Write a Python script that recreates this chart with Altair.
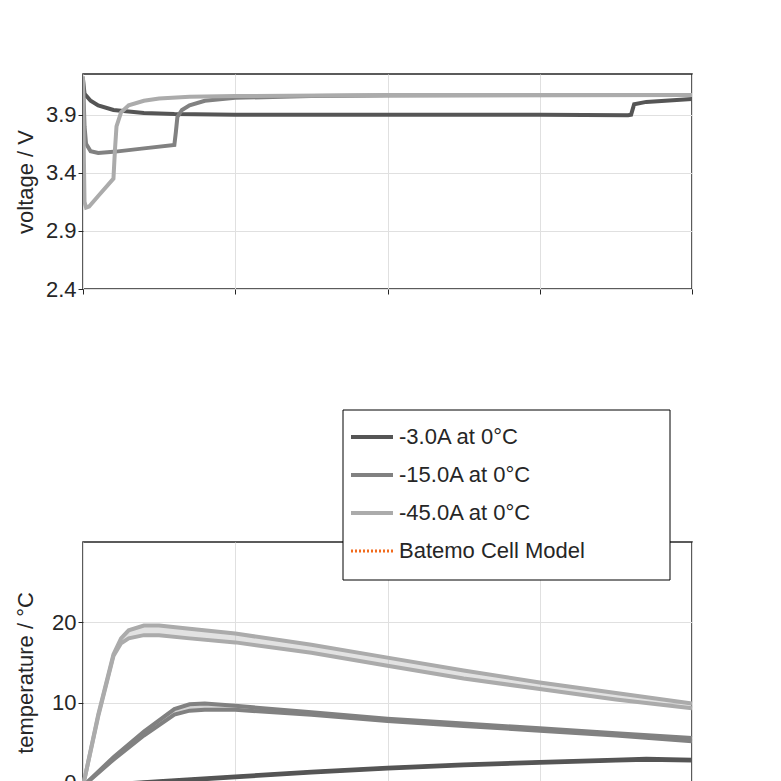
import altair as alt
import pandas as pd

FONT = "Liberation Sans"
C3, C15, C45 = "#555555", "#818181", "#ababab"

# voltage curves (time s, voltage V)
v3_t = [0, 1, 5, 10, 20, 40, 60, 100, 200, 300, 358, 360, 362, 370, 400]
v3_v = [4.20, 4.08, 4.02, 3.98, 3.94, 3.915, 3.905, 3.90, 3.90, 3.90, 3.895, 3.90, 3.99, 4.01, 4.035]
v15_t = [0, 1, 2, 5, 10, 20, 40, 60, 61, 62, 65, 70, 80, 100, 150, 200, 400]
v15_v = [4.21, 3.80, 3.65, 3.585, 3.57, 3.58, 3.61, 3.64, 3.75, 3.88, 3.94, 3.98, 4.02, 4.045, 4.06, 4.065, 4.07]
v45_t = [0, 0.5, 1, 2, 4, 10, 20, 21, 22, 25, 30, 40, 50, 70, 100, 200, 400]
v45_v = [4.23, 3.60, 3.15, 3.10, 3.11, 3.20, 3.35, 3.60, 3.80, 3.92, 3.98, 4.02, 4.04, 4.055, 4.06, 4.07, 4.07]

# temperature curves (time s, measured upper / model lower, degC)
t3_t = [0, 50, 100, 150, 200, 250, 300, 350, 370, 400]
t3_a = [-0.4, 0.2, 0.8, 1.4, 1.9, 2.3, 2.6, 2.9, 3.0, 2.9]
t3_b = [-0.4, 0.1, 0.7, 1.3, 1.8, 2.2, 2.5, 2.8, 2.9, 2.8]
t15_t = [0, 20, 40, 60, 70, 80, 100, 150, 200, 250, 300, 350, 400]
t15_a = [-0.4, 3.2, 6.4, 9.2, 9.8, 9.9, 9.6, 8.8, 8.0, 7.4, 6.8, 6.2, 5.6]
t15_b = [-0.4, 2.9, 5.9, 8.5, 9.0, 9.1, 9.1, 8.5, 7.7, 7.1, 6.5, 5.9, 5.2]
t45_t = [0, 10, 20, 25, 30, 40, 50, 70, 100, 150, 200, 250, 300, 350, 400]
t45_a = [-0.4, 8.5, 16.0, 18.0, 19.0, 19.6, 19.6, 19.2, 18.6, 17.2, 15.6, 14.0, 12.5, 11.2, 9.9]
t45_b = [-0.4, 8.3, 15.8, 17.4, 18.0, 18.4, 18.4, 18.0, 17.5, 16.2, 14.6, 13.0, 11.7, 10.4, 9.3]

labels = ["-3.0A at 0°C", "-15.0A at 0°C", "-45.0A at 0°C", "Batemo Cell Model"]

rows = []
for name, ts, vs in [("a", v3_t, v3_v), ("b", v15_t, v15_v), ("c", v45_t, v45_v)]:
    rows += [{"s": name, "t": t, "v": v} for t, v in zip(ts, vs)]
vdf = pd.DataFrame(rows)

rows = []
for name, ts, a, b in [("a", t3_t, t3_a, t3_b), ("b", t15_t, t15_a, t15_b), ("c", t45_t, t45_a, t45_b)]:
    rows += [{"s": name, "t": t, "hi": x, "lo": y} for t, x, y in zip(ts, a, b)]
tdf = pd.DataFrame(rows)

cscale = alt.Scale(domain=["a", "b", "c"], range=[C3, C15, C45])
xsc = alt.Scale(domain=[0, 400], nice=False)
ax = dict(labelFont=FONT, titleFont=FONT, labelFontSize=22, titleFontSize=22,
          titleFontWeight="normal", labelColor="#262626", titleColor="#262626",
          domain=False, tickColor="#262626", gridColor="#e0e0e0")

top = alt.Chart(vdf).mark_line(strokeWidth=4, clip=True).encode(
    x=alt.X("t:Q", scale=xsc, axis=alt.Axis(labels=False, title=None, values=[0, 100, 200, 300, 400], **ax)),
    y=alt.Y("v:Q", scale=alt.Scale(domain=[2.4, 4.25], nice=False, zero=False),
            axis=alt.Axis(values=[2.4, 2.9, 3.4, 3.9], format=".1f", title="voltage / V", titlePadding=8, **ax)),
    color=alt.Color("s:N", scale=cscale, legend=None),
).properties(width=609, height=215)

base = alt.Chart(tdf).encode(
    x=alt.X("t:Q", scale=xsc, axis=alt.Axis(values=[0, 100, 200, 300, 400], title="time / s", **ax)),
    color=alt.Color("s:N", scale=cscale, legend=None),
)
ysc = alt.Scale(domain=[-2.5, 30], nice=False)
yax = alt.Axis(values=[0, 10, 20], title="temperature / °C", titlePadding=14, **ax)
band = base.mark_area(opacity=0.35).encode(y=alt.Y("hi:Q", scale=ysc, axis=yax), y2="lo:Q")
hi = base.mark_line(strokeWidth=4).encode(y=alt.Y("hi:Q", scale=ysc))
lo = base.mark_line(strokeWidth=4).encode(y=alt.Y("lo:Q", scale=ysc))

# legend drawn in bottom panel, overlapping into the gap
leg = pd.DataFrame({"label": labels, "row": [0, 1, 2, 3], "col": [C3, C15, C45, "#f26b1d"]})
box = alt.Chart(pd.DataFrame({"k": [0]})).mark_rect(fill="white", stroke="black", strokeWidth=1).encode(
    x=alt.value(260), x2=alt.value(587), y=alt.value(-132), y2=alt.value(38))
lrow = alt.Chart(leg).transform_calculate(yy="-105 + datum.row * 38")
lines = lrow.transform_filter("datum.row < 3").mark_rule(strokeWidth=4).encode(
    x=alt.value(268), x2=alt.value(310), y=alt.Y("yy:Q", scale=None, axis=None),
    color=alt.Color("col:N", scale=None, legend=None))
dots = lrow.transform_filter("datum.row == 3").mark_rule(strokeWidth=3, strokeDash=[2, 2]).encode(
    x=alt.value(268), x2=alt.value(310), y=alt.Y("yy:Q", scale=None, axis=None),
    color=alt.Color("col:N", scale=None, legend=None))
txt = lrow.mark_text(align="left", baseline="middle", font=FONT, fontSize=22, color="#262626").encode(
    x=alt.value(316), y=alt.Y("yy:Q", scale=None, axis=None), text="label:N")

bottom = alt.layer(band, hi, lo, box, lines, dots, txt).properties(width=609, height=261)

chart = alt.vconcat(top, bottom, spacing=107).configure_view(
    stroke="#262626", strokeWidth=1.5).properties(padding={"left": 5, "top": 65, "right": 5, "bottom": 5})

chart.save("out.html", embed_options={"renderer": "svg", "actions": False})
